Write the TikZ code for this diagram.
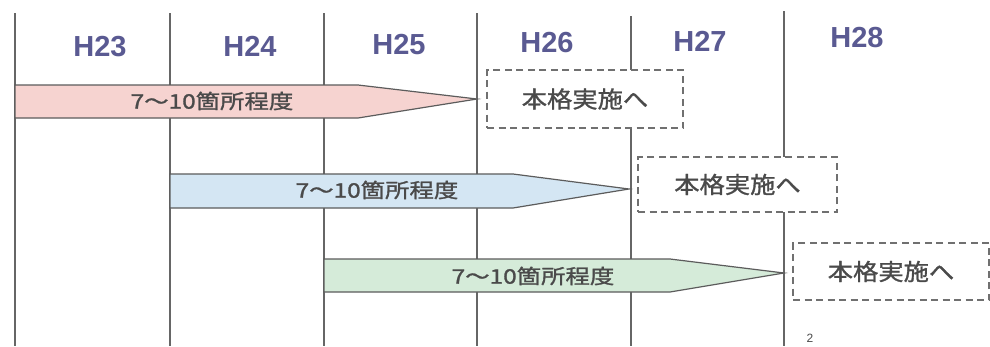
\documentclass[tikz,border=0pt]{standalone}
\usepackage{fontspec}
\setmainfont{Liberation Sans}
\newfontfamily\jpfont[FakeBold=1.2]{Noto Sans CJK JP}
\definecolor{hdr}{HTML}{5A5A92}
\definecolor{txt}{HTML}{4A4A4A}
\definecolor{gridc}{HTML}{666666}
\definecolor{pinkf}{HTML}{F6D3D0}
\definecolor{bluef}{HTML}{D4E6F3}
\definecolor{greenf}{HTML}{D5EBD9}
\definecolor{edgec}{HTML}{5C5C5C}
\definecolor{dashc}{HTML}{707070}
\begin{document}
\begin{tikzpicture}[x=1pt,y=-1pt,
  hdrlabel/.style={font=\fontsize{29}{29}\selectfont\bfseries, text=hdr, inner sep=0pt},
  gridline/.style={draw=gridc, line width=1.4pt},
  barshape/.style={draw=edgec, line width=1.2pt, line join=miter},
  bartext/.style={font=\jpfont\fontsize{20}{20}\selectfont, text=txt, inner sep=0pt},
  nextbox/.style={draw=dashc, dash pattern=on 7pt off 4.5pt, line width=1.4pt, fill=white,
    font=\jpfont\fontsize{23}{23}\selectfont, text=txt, inner sep=0pt}]
\useasboundingbox (0,0) rectangle (990,346);
\fill[white] (0,0) rectangle (990,346);
% grid lines
\coordinate (g1t) at (15,13);  \coordinate (g1b) at (15,346);
\coordinate (g2t) at (170,13); \coordinate (g2b) at (170,346);
\coordinate (g3t) at (324,13); \coordinate (g3b) at (324,346);
\coordinate (g4t) at (477,13); \coordinate (g4b) at (477,346);
\coordinate (g5t) at (631,16); \coordinate (g5b) at (631,346);
\coordinate (g6t) at (784,11); \coordinate (g6b) at (784,346);
\foreach \i in {1,...,6} \draw[gridline] (g\i t) -- (g\i b);
% headers
\node[hdrlabel] (h23) at (100,47) {H23};
\node[hdrlabel] (h24) at (250,46) {H24};
\node[hdrlabel] (h25) at (399,45) {H25};
\node[hdrlabel] (h26) at (547,43) {H26};
\node[hdrlabel] (h27) at (700,41) {H27};
\node[hdrlabel] (h28) at (857,38) {H28};
% next-step boxes
\node[nextbox, minimum width=196pt, minimum height=58pt] (b1) at (585,99) {\scalebox{1.1}[1]{本格実施へ}};
\node[nextbox, minimum width=199pt, minimum height=55pt] (b2) at (737.5,184.5) {\scalebox{1.1}[1]{本格実施へ}};
\node[nextbox, minimum width=196pt, minimum height=57pt] (b3) at (891,271.5) {\scalebox{1.1}[1]{本格実施へ}};
% arrows
\fill[pinkf] (15,85) -- (358,85) -- (477,99) -- (358,118) -- (15,118) -- cycle;
\draw[barshape] (15,85) -- (358,85) -- (477,99) -- (358,118) -- (15,118) -- cycle;
\fill[bluef] (170,174) -- (513,174) -- (629,189) -- (513,208) -- (170,208) -- cycle;
\draw[barshape] (170,174) -- (513,174) -- (629,189) -- (513,208) -- (170,208) -- cycle;
\fill[greenf] (324,259) -- (670,259) -- (784,273) -- (670,292) -- (324,292) -- cycle;
\draw[barshape] (324,259) -- (670,259) -- (784,273) -- (670,292) -- (324,292) -- cycle;
\node[bartext] (t1) at (212,101) {\scalebox{1.22}[1]{7～10箇所程度}};
\node[bartext] (t2) at (377,190) {\scalebox{1.22}[1]{7～10箇所程度}};
\node[bartext] (t3) at (533,276) {\scalebox{1.22}[1]{7～10箇所程度}};
% page number (mostly cut off in the reference)
\node[font=\fontsize{12}{12}\selectfont, text=txt, inner sep=0pt, anchor=north] (pg) at (810,334) {2};
\end{tikzpicture}
\end{document}
